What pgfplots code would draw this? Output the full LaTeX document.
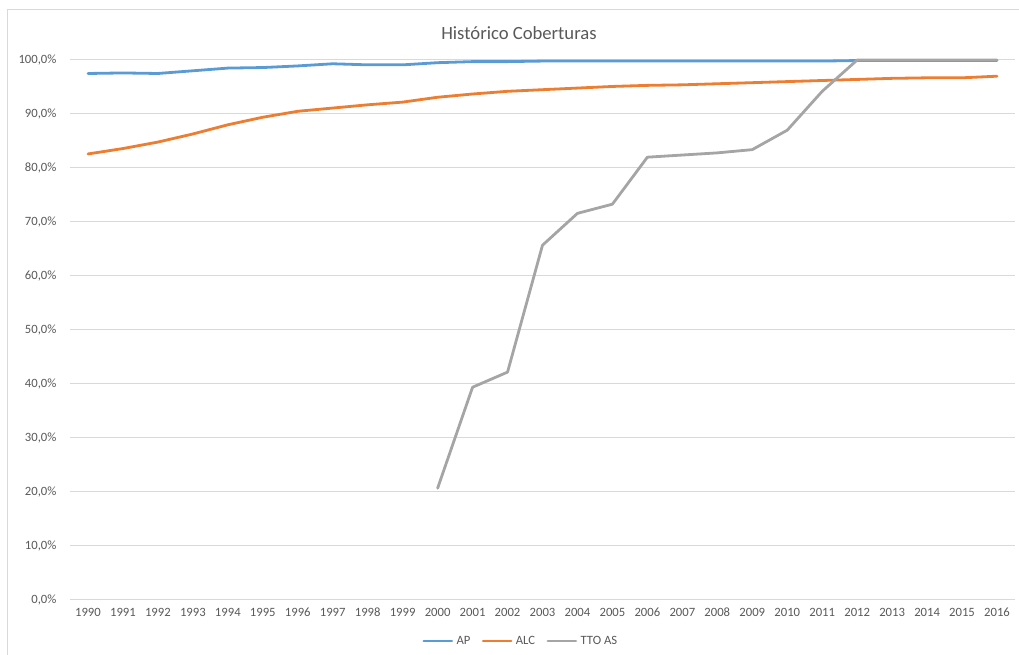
\documentclass[border=0pt]{standalone}
\usepackage{pgfplots}
\pgfplotsset{compat=1.18}
\usepackage{fontspec}
\setmainfont{Carlito}

\definecolor{apblue}{HTML}{5B9BD5}
\definecolor{alcorange}{HTML}{ED7D31}
\definecolor{ttogray}{HTML}{A5A5A5}
\definecolor{gridgray}{HTML}{D9D9D9}
\definecolor{textgray}{HTML}{595959}

\begin{document}
\begin{tikzpicture}
\path[use as bounding box] (0,0) rectangle (764.25pt,491.25pt);
% chart frame
\draw[gridgray, line width=0.75pt] (5.25pt,0pt) -- (5.25pt,483.75pt) -- (764.25pt,483.75pt);
% title
\node[text=textgray, font=\fontsize{14}{16}\selectfont] at (389.25pt,466.5pt) {Histórico Coberturas};

\begin{axis}[
  at={(52.875pt,41.25pt)}, anchor=south west,
  scale only axis, width=708pt, height=405pt,
  xmin=1989.5, xmax=2016.5, ymin=0, ymax=100,
  clip=false,
  axis line style={draw=none},
  axis x line*=bottom,
  xtick={1990,1991,...,2016},
  ytick={0,10,...,100},
  yticklabels={{0,0\%},{10,0\%},{20,0\%},{30,0\%},{40,0\%},{50,0\%},{60,0\%},{70,0\%},{80,0\%},{90,0\%},{100,0\%}},
  /pgf/number format/.cd, 1000 sep={}, assume math mode=true, /pgfplots/.cd,
  major tick length=0pt,
  ymajorgrids,
  grid style={gridgray, line width=0.75pt},
  tick label style={text=textgray, font=\fontsize{9.5}{11}\selectfont},
  xticklabel style={anchor=north, yshift=-2pt, text height=7pt, text depth=1pt},
  yticklabel style={xshift=-7pt},
  legend style={at={(0.477,-0.076)}, anchor=center, draw=none, fill=none,
    font=\fontsize{9.5}{11}\selectfont, text=textgray,
    column sep=1pt, nodes={inner xsep=1.5pt},
    /tikz/every even column/.append style={column sep=7pt}},
  legend columns=-1,
  legend image code/.code={\draw[#1] (0pt,0pt) -- (21pt,0pt);},
  every axis plot/.append style={line width=2.1pt, line join=round, line cap=round},
]
% 0 % baseline
\draw[gridgray, line width=0.75pt] (axis cs:1989.5,0) -- (axis cs:2016.5,0);

\addplot[apblue] coordinates {
  (1990,97.5) (1991,97.6) (1992,97.5) (1993,98.0) (1994,98.5) (1995,98.6)
  (1996,98.9) (1997,99.3) (1998,99.1) (1999,99.1) (2000,99.5) (2001,99.7)
  (2002,99.7) (2003,99.8) (2004,99.8) (2005,99.8) (2006,99.8) (2007,99.8)
  (2008,99.8) (2009,99.8) (2010,99.8) (2011,99.8) (2012,99.9) (2013,99.9)
  (2014,99.9) (2015,99.9) (2016,99.9)
};
\addlegendentry{AP}

\addplot[alcorange] coordinates {
  (1990,82.6) (1991,83.6) (1992,84.8) (1993,86.3) (1994,88.0) (1995,89.4)
  (1996,90.5) (1997,91.1) (1998,91.7) (1999,92.2) (2000,93.1) (2001,93.7)
  (2002,94.2) (2003,94.5) (2004,94.8) (2005,95.1) (2006,95.3) (2007,95.4)
  (2008,95.6) (2009,95.8) (2010,96.0) (2011,96.2) (2012,96.4) (2013,96.6)
  (2014,96.7) (2015,96.7) (2016,97.0)
};
\addlegendentry{ALC}

\addplot[ttogray] coordinates {
  (2000,20.7) (2001,39.4) (2002,42.2) (2003,65.7) (2004,71.6) (2005,73.3)
  (2006,82.0) (2007,82.4) (2008,82.8) (2009,83.4) (2010,87.0) (2011,94.2)
  (2012,100.0) (2013,100.0) (2014,100.0) (2015,100.0) (2016,100.0)
};
\addlegendentry{TTO AS}
\end{axis}
\end{tikzpicture}
\end{document}
